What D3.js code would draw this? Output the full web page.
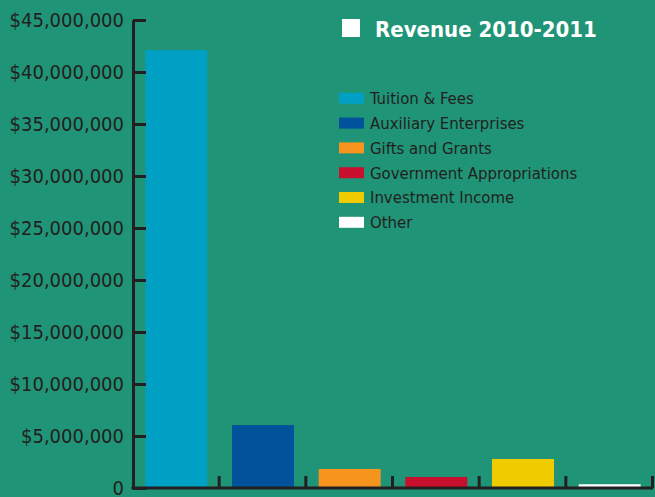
<!DOCTYPE html>
<html>
<head>
<meta charset="utf-8">
<script src="https://cdn.jsdelivr.net/npm/d3@7"></script>
<style>
  body { margin: 0; background: #1f9476; }
  svg { display: block; }
</style>
</head>
<body>
<div id="chart"></div>
<script>
const categories = ["Tuition & Fees", "Auxiliary Enterprises", "Gifts and Grants",
                    "Government Appropriations", "Investment Income", "Other"];
const revenue = [42100000, 6050000, 1830000, 1060000, 2790000, 360000];
const colors = ["#00a0c4", "#00529b", "#f7941e", "#c8102e", "#f0cb00", "#ffffff"];
const yTicks = [0, 5000000, 10000000, 15000000, 20000000, 25000000, 30000000, 35000000, 40000000, 45000000];
const title = "Revenue 2010-2011";

const W = 655, H = 497;
const margin = { top: 20, right: 2, bottom: 9, left: 133 },
      width = W - margin.left - margin.right,
      height = H - margin.top - margin.bottom;

const ink = "#231f20";
const font = "'Liberation Sans Narrow', 'DejaVu Sans Condensed', sans-serif";

const svg = d3.select("#chart")
    .append("svg")
    .attr("width", W)
    .attr("height", H)
    .style("font-family", font);

const g = svg.append("g")
    .attr("transform", `translate(${margin.left},${margin.top})`);

// scales
const x = d3.scaleBand()
    .domain(categories)
    .range([0, width])
    .paddingInner(0.285)
    .paddingOuter(0.1425);

const y = d3.scaleLinear()
    .domain([0, 45000000])
    .range([height, 0]);

// bars
g.selectAll(".bar")
    .data(revenue)
    .enter().append("rect")
    .attr("class", "bar")
    .attr("x", (d, i) => x(categories[i]))
    .attr("width", x.bandwidth())
    .attr("y", d => y(d))
    .attr("height", d => height - y(d))
    .attr("fill", (d, i) => colors[i]);

// y axis: ticks point inward (right)
const yAxis = g.append("g")
    .call(d3.axisRight(y).tickValues(yTicks).tickSize(13).tickSizeOuter(0)
        .tickFormat(d => d === 0 ? "0" : "$" + d3.format(",")(d)));
yAxis.select(".domain").attr("stroke", ink).attr("stroke-width", 3);
yAxis.selectAll(".tick line").attr("stroke", ink).attr("stroke-width", 3);
yAxis.selectAll(".tick text")
    .attr("x", -9)
    .attr("text-anchor", "end")
    .attr("fill", ink)
    .style("font-size", "20px")
    .style("font-family", font);

// x axis: band boundary ticks pointing up
const xBase = g.append("g").attr("transform", `translate(0,${height})`);
xBase.append("line")
    .attr("x1", -1.5).attr("x2", width)
    .attr("stroke", ink).attr("stroke-width", 3);
const step = x.step();
xBase.selectAll(".xtick")
    .data(categories)
    .enter().append("line")
    .attr("class", "xtick")
    .attr("x1", d => x(d) - step * 0.1425 + step - 0.5)
    .attr("x2", d => x(d) - step * 0.1425 + step - 0.5)
    .attr("y1", 0).attr("y2", -12)
    .attr("stroke", ink).attr("stroke-width", 3);

// legend
const legend = svg.append("g").attr("transform", "translate(339,0)");
legend.append("rect")
    .attr("x", 3).attr("y", 19).attr("width", 18).attr("height", 18)
    .attr("fill", "#fff");
legend.append("text")
    .attr("x", 36).attr("y", 37)
    .attr("fill", "#fff")
    .style("font-size", "22px")
    .style("font-weight", "bold")
    .text(title);

const item = legend.selectAll(".item")
    .data(categories)
    .enter().append("g")
    .attr("class", "item")
    .attr("transform", (d, i) => `translate(0,${98.3 + i * 24.8})`);
item.append("rect")
    .attr("x", 0).attr("y", -5.5).attr("width", 25).attr("height", 11)
    .attr("fill", (d, i) => colors[i]);
item.append("text")
    .attr("x", 31).attr("y", 0).attr("dy", "0.35em")
    .attr("fill", ink)
    .style("font-size", "16.6px")
    .text(d => d);
</script>
</body>
</html>
